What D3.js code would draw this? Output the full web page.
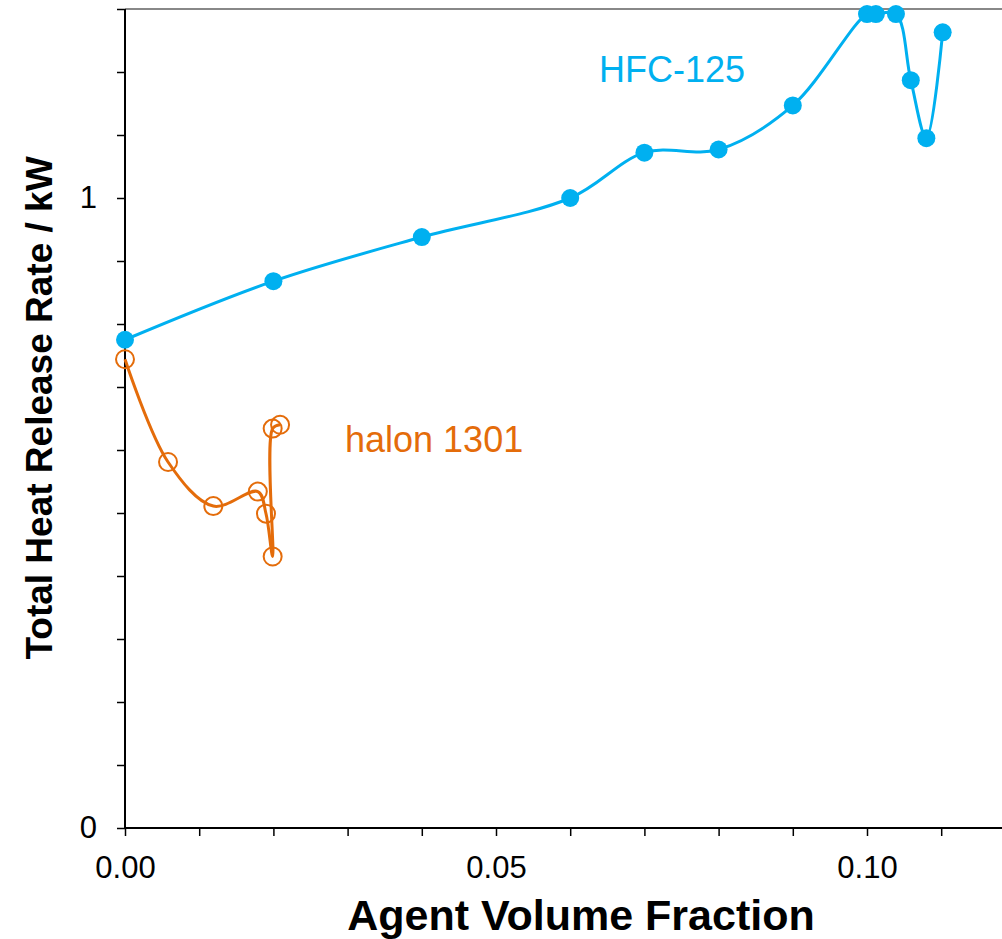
<!DOCTYPE html>
<head>
    <meta charset="utf-8">
    <script src="https://d3js.org/d3.v7.min.js"></script>
    <style>
        body { margin: 0; background: #fff; font-family: Arial, "Liberation Sans", sans-serif; }
        .tick text { font-size: 31px; fill: #000; }
        .axisTitle { font-weight: 700; fill: #000; }
        .seriesLabel { font-size: 36px; }
        path.domain { display: none; }
    </style>
</head>
<body>
<div id="chart"></div>
<script>
    // agent volume fraction vs total heat release rate (kW)
    var hfcX = [0, 0.02, 0.04, 0.06, 0.07, 0.08, 0.09, 0.100, 0.1012, 0.1039, 0.1059, 0.1080, 0.1102];
    var hfcY = [0.775, 0.868, 0.938, 1.0, 1.072, 1.077, 1.147, 1.292, 1.292, 1.292, 1.187, 1.095, 1.263];

    var halonX = [0, 0.0058, 0.0119, 0.0179, 0.0190, 0.0199, 0.0199, 0.0209];
    var halonY = [0.744, 0.581, 0.511, 0.534, 0.499, 0.431, 0.634, 0.640];

    var xTicks = d3.range(0, 0.1201, 0.01);
    var xTickLabels = [0, 0.05, 0.10];
    var yTicks = d3.range(0, 1.301, 0.1);
    var yTickLabels = [0, 1];

    var width = 1002, height = 939;
    var blue = "#00b0f0", orange = "#e46c0a";

    var svg = d3.select("#chart").append("svg")
        .attr("width", width)
        .attr("height", height);

    var x = d3.scaleLinear().domain([0, 0.12]).range([125, 125 + 0.12 * 7420]);
    var y = d3.scaleLinear().domain([0, 1.3]).range([828, 9]);

    // frame top line
    svg.append("line")
        .attr("x1", x(0)).attr("x2", x(0.12))
        .attr("y1", y(1.3)).attr("y2", y(1.3))
        .attr("stroke", "#888").attr("stroke-width", 2);

    var near = (a, b) => Math.abs(a - b) < 1e-6;

    var xAxis = d3.axisBottom(x)
        .tickValues(xTicks)
        .tickSize(8)
        .tickPadding(20)
        .tickFormat(d => xTickLabels.some(v => near(v, d)) ? d3.format(".2f")(d) : "");

    var gx = svg.append("g")
        .attr("transform", `translate(0,${y(0)})`)
        .call(xAxis);
    gx.selectAll(".tick line").attr("stroke", "#000").attr("stroke-width", 1.5);

    var yAxis = d3.axisLeft(y)
        .tickValues(yTicks)
        .tickSize(8)
        .tickPadding(20)
        .tickFormat(d => yTickLabels.some(v => near(v, d)) ? d3.format("d")(d) : "");

    var gy = svg.append("g")
        .attr("transform", `translate(${x(0)},0)`)
        .call(yAxis);
    gy.selectAll(".tick line").attr("stroke", "#000").attr("stroke-width", 1.5);

    // axis lines
    svg.append("line")
        .attr("x1", x(0)).attr("x2", x(0.12))
        .attr("y1", y(0)).attr("y2", y(0))
        .attr("stroke", "#000").attr("stroke-width", 2);
    svg.append("line")
        .attr("x1", x(0)).attr("x2", x(0))
        .attr("y1", y(0) + 1).attr("y2", y(1.3))
        .attr("stroke", "#000").attr("stroke-width", 2);

    var line = d3.line()
        .x(d => x(d[0]))
        .y(d => y(d[1]))
        .curve(d3.curveCatmullRom.alpha(0.5));

    var hfc = d3.zip(hfcX, hfcY);
    var halon = d3.zip(halonX, halonY);

    svg.append("path")
        .datum(hfc)
        .attr("fill", "none")
        .attr("stroke", blue)
        .attr("stroke-width", 3)
        .attr("d", line);

    svg.selectAll("circle.hfc")
        .data(hfc)
        .enter()
        .append("circle")
        .attr("class", "hfc")
        .attr("cx", d => x(d[0]))
        .attr("cy", d => y(d[1]))
        .attr("r", 9)
        .attr("fill", blue);

    svg.append("path")
        .datum(halon)
        .attr("fill", "none")
        .attr("stroke", orange)
        .attr("stroke-width", 3)
        .attr("d", line);

    svg.selectAll("circle.halon")
        .data(halon)
        .enter()
        .append("circle")
        .attr("class", "halon")
        .attr("cx", d => x(d[0]))
        .attr("cy", d => y(d[1]))
        .attr("r", 9)
        .attr("fill", "none")
        .attr("stroke", orange)
        .attr("stroke-width", 2);

    // series labels
    svg.append("text")
        .attr("class", "seriesLabel")
        .attr("x", 599)
        .attr("y", 82)
        .style("fill", blue)
        .text("HFC-125");

    svg.append("text")
        .attr("class", "seriesLabel")
        .attr("x", 345)
        .attr("y", 452)
        .style("fill", orange)
        .text("halon 1301");

    // axis titles
    svg.append("text")
        .attr("class", "axisTitle")
        .attr("x", 581)
        .attr("y", 930)
        .style("font-size", "43px")
        .style("text-anchor", "middle")
        .text("Agent Volume Fraction");

    svg.append("text")
        .attr("class", "axisTitle")
        .attr("transform", "translate(52,408) rotate(-90)")
        .style("font-size", "37px")
        .style("text-anchor", "middle")
        .text("Total Heat Release Rate / kW");
</script>
</body>
